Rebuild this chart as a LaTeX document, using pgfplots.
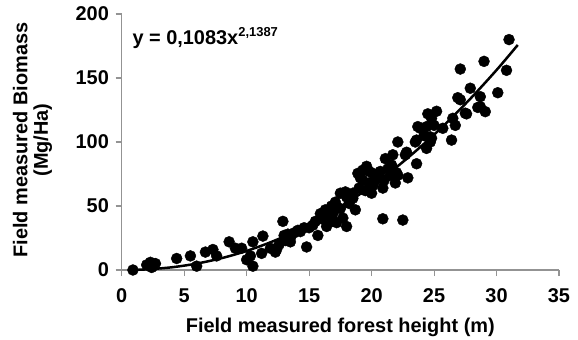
\documentclass[border=0pt]{standalone}
\usepackage{pgfplots}
\pgfplotsset{compat=1.18}
\usepackage{fontspec}
\setmainfont{Liberation Sans}
\begin{document}
\fontsize{20}{21}\selectfont\bfseries
\begin{tikzpicture}
\begin{axis}[
 scale only axis, width=437.3bp, height=256bp,
 xmin=0, xmax=35, ymin=0, ymax=200,
 axis x line=bottom, axis y line=left,
 axis line style={-, draw=gray!85, line width=1.3bp},
 xtick={0,5,...,35}, ytick={0,50,...,200},
 tick align=outside, major tick length=6bp,
 tick style={draw=gray!85, line width=1.1bp},
 /pgf/number format/assume math mode=true,
 ticklabel style={font=\fontsize{20}{21}\selectfont\bfseries},
 xticklabel style={yshift=-6bp},
 clip=false,
]
\addplot[only marks, mark=*, mark size=5.5bp, mark options={fill=black, draw=black}] table {
x y
0.9 0
2.0 4
2.3 6
2.5 3
2.7 5
2.4 2
4.4 9
5.5 11
6.0 3
6.7 14
7.3 16
7.6 11
8.6 22
9.1 17
9.6 17
10.0 8
10.3 11
10.5 3
10.5 22
11.2 13
11.3 26.5
11.9 17
12.3 14
12.4 16
12.6 20
12.9 38
13.1 23
13.3 28
13.8 29
13.5 25
13.0 27
13.5 22
14.1 31
14.3 30
14.6 33
14.8 18
15.0 33
15.3 35
15.5 38
15.7 27
15.9 44
16.0 40
16.3 47
16.4 34
16.6 42
16.8 50
16.9 38
16.9 44
17.1 53
17.2 49
17.2 37
17.5 48
17.5 60
17.7 40.6
17.9 61
18.0 34
18.0 57
18.2 52
18.5 56
18.5 60
18.7 47
18.9 75.5
19.0 64
19.1 72
19.3 70
19.3 78
19.5 62
19.6 81
19.8 77
19.8 68
20.0 60
20.1 75.5
20.1 66
20.3 70
20.5 72
20.7 77
20.9 64
20.9 40
21.0 70
21.1 87
21.3 79
21.5 74
21.6 82
21.7 90
21.9 68
22.0 76
22.1 74
22.1 100
22.5 39
22.7 90
22.8 92
22.9 72
23.5 100
23.6 83
23.6 101.5
23.7 112
23.9 110.7
24.2 105
24.4 112
24.4 95
24.5 122
24.7 100
24.7 104
24.8 118.5
24.8 103
25.2 124
25.0 113
25.7 110.7
26.4 101.5
26.5 118.5
26.7 113
26.9 134.6
27.1 157
27.1 133
27.5 122.5
27.6 122
27.9 142
28.5 127
28.7 127.6
28.7 135.4
29.0 163
29.1 123.7
30.1 138.5
30.8 156
31.0 180
};
\addplot[black, line width=2.5bp, smooth] coordinates {
(0.9,0.087) (2,0.477) (4,2.10) (6,5.00) (8,9.25) (10,14.9) (12,22.0) (14,30.6) (16,40.7) (18,52.4) (20,65.6) (22,80.4) (24,96.9) (26,115.0) (28,134.8) (30,156.2) (31.7,175.8)
};
\node[anchor=base west, inner sep=0pt] at (axis cs:0.85,175.8) {y = 0,1083x\raisebox{8bp}{\fontsize{13}{13}\selectfont 2,1387}};
\end{axis}
\node[rotate=90, align=center, font=\fontsize{20}{20.5}\selectfont\bfseries] at (-89.2bp,130bp) {Field measured Biomass\\(Mg/Ha)};
\node[anchor=base, inner sep=0pt] at (218.6bp,-62bp) {Field measured forest height (m)};
\pgfresetboundingbox
\path (-121.7bp,-70bp) rectangle (456.3bp,270bp);
\end{tikzpicture}
\end{document}
